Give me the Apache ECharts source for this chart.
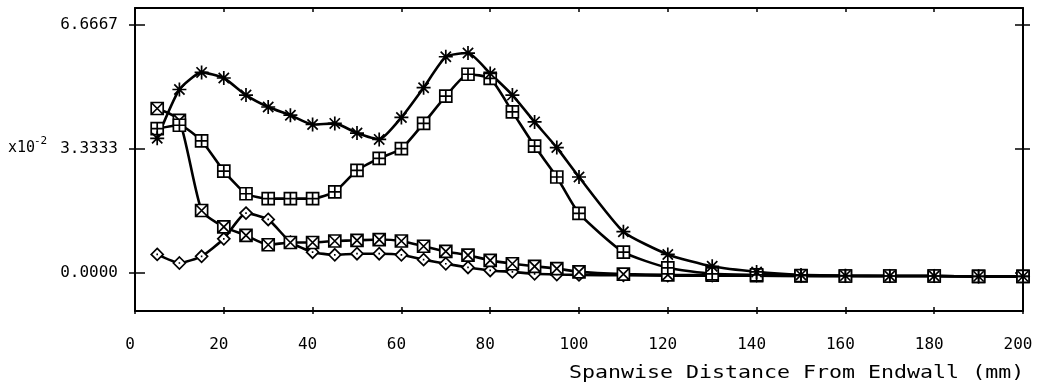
<!DOCTYPE html>
<html>
<head>
<meta charset="utf-8">
<script src="https://cdn.jsdelivr.net/npm/echarts@6/dist/echarts.min.js"></script>
<style>
  html, body { margin: 0; padding: 0; background: #fff; }
  #chart { width: 1041px; height: 392px; }
</style>
</head>
<body>
<div id="chart"></div>
<script>
// Spanwise positions (mm)
const spanwise = [5, 10, 15, 20, 25, 30, 35, 40, 45, 50, 55, 60, 65, 70, 75, 80, 85, 90, 95, 100,
                  110, 120, 130, 140, 150, 160, 170, 180, 190, 200];

// Values in units of 10^-2
const seriesStar = [3.62, 4.93, 5.39, 5.24, 4.78, 4.46, 4.24, 3.99, 4.02, 3.76, 3.59, 4.18, 4.98, 5.81, 5.91,
                    5.36, 4.78, 4.06, 3.37, 2.58, 1.11, 0.50, 0.18, 0.03, -0.05, -0.07, -0.08, -0.08, -0.09, -0.09];
const seriesSquarePlus = [3.88, 3.97, 3.55, 2.74, 2.13, 2.00, 2.00, 2.00, 2.18, 2.76, 3.08, 3.34, 4.02, 4.75, 5.34,
                          5.23, 4.33, 3.41, 2.58, 1.60, 0.56, 0.14, -0.02, -0.05, -0.07, -0.08, -0.08, -0.08, -0.09, -0.09];
const seriesSquareCross = [4.42, 4.10, 1.68, 1.24, 1.01, 0.76, 0.82, 0.82, 0.86, 0.88, 0.90, 0.86, 0.72, 0.58, 0.48,
                           0.34, 0.25, 0.18, 0.12, 0.03, -0.03, -0.05, -0.06, -0.07, -0.08, -0.08, -0.08, -0.08, -0.09, -0.09];
const seriesDiamond = [0.50, 0.27, 0.45, 0.92, 1.61, 1.44, 0.83, 0.56, 0.49, 0.52, 0.52, 0.49, 0.36, 0.25, 0.15,
                       0.07, 0.03, -0.02, -0.04, -0.05, -0.06, -0.07, -0.07, -0.07, -0.08, -0.08, -0.08, -0.08, -0.09, -0.09];

// Axis ticks
const yTickValues = [0, 3.3333, 6.6667];
const yTickLabels = ['0.0000', '3.3333', '6.6667'];
const xTitle = 'Spanwise Distance From Endwall (mm)';
const yScaleLabel = 'x10';
const yScaleExp = '-2';

const MONO = '"DejaVu Sans Mono", "Liberation Mono", monospace';

const SYM_STAR = 'path://M6,0L6,12M0,6L12,6M1.6,1.6L10.4,10.4M10.4,1.6L1.6,10.4';
const SYM_SQ_PLUS = 'path://M0,0L12,0L12,12L0,12ZM6,0L6,12M0,6L12,6';
const SYM_SQ_CROSS = 'path://M0,0L12,0L12,12L0,12ZM0,0L12,12M12,0L0,12';
const SYM_DIAMOND = 'path://M6,0L12,6L6,12L0,6ZM5.2,6L6.8,6';

function pairs(ys) { return spanwise.map((x, i) => [x, ys[i]]); }

function lineSeries(ys, symbol, size) {
  return {
    type: 'line',
    data: pairs(ys),
    smooth: 0.18,
    symbol: symbol,
    symbolSize: size,
    showAllSymbol: true,
    lineStyle: { color: '#000', width: 2.6 },
    itemStyle: { color: '#fff', borderColor: '#000', borderWidth: 1.7 },
    emphasis: { disabled: true },
    animation: false,
    z: 3
  };
}

const yMin = -1.02, yMax = 7.12;
const blank = { show: false };
const frameLine = { show: true, onZero: false, lineStyle: { color: '#000', width: 2 } };
const noLine = { show: false, onZero: false };
const tickStyle = { color: '#000', width: 1.5 };

const chart = echarts.init(document.getElementById('chart'), null, { renderer: 'canvas' });
chart.setOption({
  backgroundColor: '#fff',
  animation: false,
  grid: { left: 135, right: 18, top: 8, bottom: 81, containLabel: false, outerBoundsMode: 'none' },
  xAxis: [
    {
      type: 'value', position: 'bottom', min: 0, max: 200, interval: 20,
      axisLine: frameLine,
      axisTick: { show: true, inside: true, length: 4, lineStyle: tickStyle },
      axisLabel: { show: true, color: '#000', fontFamily: MONO, fontSize: 16, margin: 26, padding: [0, 10, 0, 0] },
      splitLine: blank
    },
    {
      type: 'value', position: 'bottom', min: 0, max: 200, interval: 20,
      axisLine: noLine,
      axisTick: { show: true, inside: false, length: 3, lineStyle: tickStyle },
      axisLabel: blank, splitLine: blank
    },
    {
      type: 'value', position: 'top', min: 0, max: 200, interval: 20,
      axisLine: frameLine,
      axisTick: { show: true, inside: true, length: 4, lineStyle: tickStyle },
      axisLabel: blank, splitLine: blank
    }
  ],
  yAxis: [
    {
      type: 'value', position: 'left', min: yMin, max: yMax,
      axisLine: frameLine,
      axisTick: { show: true, inside: false, length: 6, customValues: yTickValues, lineStyle: tickStyle },
      axisLabel: {
        show: true, color: '#000', fontFamily: MONO, fontSize: 16, margin: 17,
        customValues: yTickValues,
        formatter: (v) => yTickLabels[yTickValues.indexOf(v)] ?? v.toFixed(4)
      },
      splitLine: blank
    },
    {
      type: 'value', position: 'left', min: yMin, max: yMax,
      axisLine: noLine,
      axisTick: { show: true, inside: true, length: 10, customValues: yTickValues, lineStyle: tickStyle },
      axisLabel: blank, splitLine: blank
    },
    {
      type: 'value', position: 'right', min: yMin, max: yMax,
      axisLine: frameLine,
      axisTick: { show: true, inside: true, length: 8, customValues: yTickValues, lineStyle: tickStyle },
      axisLabel: blank, splitLine: blank
    },
    {
      type: 'value', position: 'right', min: yMin, max: yMax,
      axisLine: noLine,
      axisTick: { show: true, inside: false, length: 7, customValues: yTickValues, lineStyle: tickStyle },
      axisLabel: blank, splitLine: blank
    }
  ],
  series: [
    lineSeries(seriesDiamond, SYM_DIAMOND, 12),
    lineSeries(seriesSquareCross, SYM_SQ_CROSS, 12),
    lineSeries(seriesSquarePlus, SYM_SQ_PLUS, 12),
    lineSeries(seriesStar, SYM_STAR, 14)
  ],
  graphic: [
    {
      type: 'text', x: 569, y: 373, scaleX: 1.2,
      style: { text: xTitle, font: '18px ' + MONO, fill: '#000', align: 'left', verticalAlign: 'middle' }
    },
    {
      type: 'text', x: 8, y: 148,
      style: { text: yScaleLabel, font: '15px ' + MONO, fill: '#000', align: 'left', verticalAlign: 'middle' }
    },
    {
      type: 'text', x: 34, y: 141,
      style: { text: yScaleExp, font: '11px ' + MONO, fill: '#000', align: 'left', verticalAlign: 'middle' }
    }
  ]
});
</script>
</body>
</html>
